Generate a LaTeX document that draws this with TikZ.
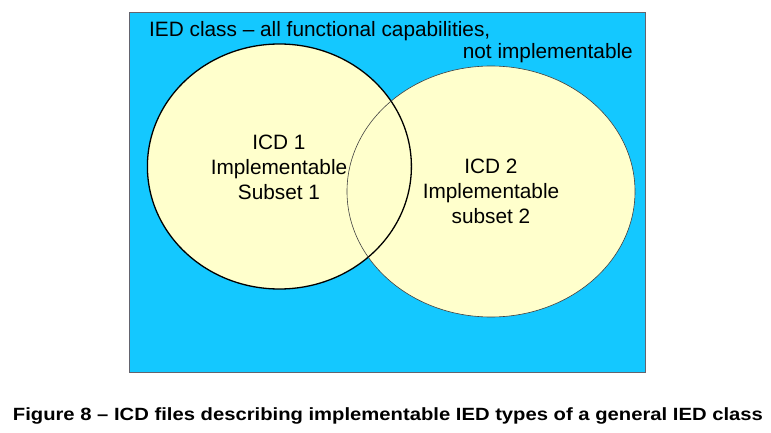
\documentclass[tikz,border=0pt]{standalone}
\usepackage{fontspec}
\setmainfont{Liberation Sans}
\definecolor{skyfill}{RGB}{20,200,255}
\definecolor{setfill}{RGB}{255,255,204}
\definecolor{frameline}{RGB}{100,100,110}
\begin{document}
\begin{tikzpicture}[x=1pt,y=-1pt,
  lbl/.style={inner sep=0pt,font=\fontsize{20.8}{25}\selectfont},
  setA/.style={draw=black,line width=1.3pt},
  setB/.style={draw=black!75,line width=0.6pt}]
\useasboundingbox (0,0) rectangle (771,433);
\fill[white] (0,0) rectangle (771,433);
% class rectangle
\draw[fill=skyfill,draw=frameline,line width=0.8pt] (129,12) rectangle (645,372);
% fills
\fill[setfill] (279.4,166.5) ellipse [x radius=132, y radius=122.5];
\fill[setfill] (491,191.5) ellipse [x radius=144, y radius=125.5];
% outlines
\draw[setA] (279.4,166.5) ellipse [x radius=132, y radius=122.5];
\draw[setB] (491,191.5) ellipse [x radius=144, y radius=125.5];
% labels
\node[lbl,anchor=base west] (cls1) at (149,37) {IED class – all functional capabilities,};
\node[lbl,anchor=base east] (cls2) at (633,58.7) {not implementable};
\node[lbl,align=center,anchor=center] (icd1) at (279,167.5) {ICD 1\\Implementable\\Subset 1};
\node[lbl,align=center,anchor=center] (icd2) at (491,191) {ICD 2\\Implementable\\subset 2};
\node[inner sep=0pt,anchor=base west] (cap) at (12.7,420)
  {\resizebox{750pt}{\height}{\fontsize{17.7}{20}\selectfont\bfseries Figure 8 – ICD files describing implementable IED types of a general IED class}};
\end{tikzpicture}
\end{document}
